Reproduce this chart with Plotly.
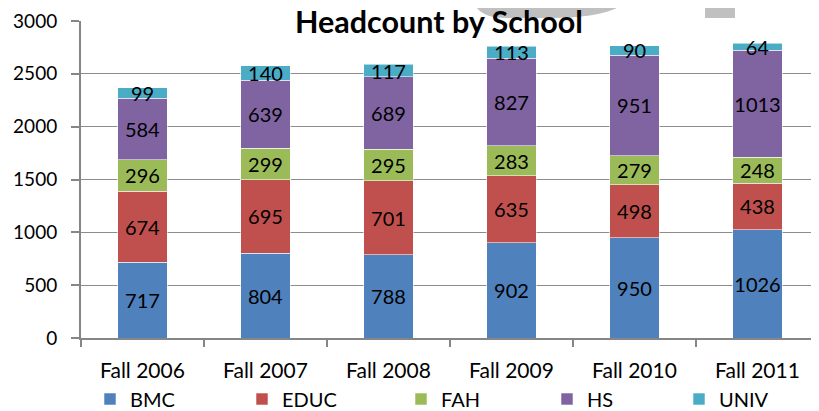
import plotly.graph_objects as go

# Data
terms = ["Fall 2006", "Fall 2007", "Fall 2008", "Fall 2009", "Fall 2010", "Fall 2011"]
bmc = [717, 804, 788, 902, 950, 1026]
educ = [674, 695, 701, 635, 498, 438]
fah = [296, 299, 295, 283, 279, 248]
hs = [584, 639, 689, 827, 951, 1013]
univ = [99, 140, 117, 113, 90, 64]

series = [
    ("BMC", bmc, "#4F81BD"),
    ("EDUC", educ, "#C0504D"),
    ("FAH", fah, "#9BBB59"),
    ("HS", hs, "#8064A2"),
    ("UNIV", univ, "#4BACC6"),
]

# the page body has an 8px margin, so the figure is shrunk by that much
OFF = 8
W, H = 819 - OFF, 411 - OFF
L, R, T, B = 81 - OFF, 0, 21 - OFF, 411 - 338
PW, PH = W - L - R, H - T - B


# screen pixel -> paper coords (used for decoration / legend placement only)
def px(x):
    return (x - OFF - L) / PW


def py(y):
    return (H - B - (y - OFF)) / PH


# legend swatch centres in the reference, one legend box per series
legend_x = [116, 268, 427, 573, 705]

fig = go.Figure()
for i, (name, vals, color) in enumerate(series):
    fig.add_trace(
        go.Bar(
            x=terms,
            y=vals,
            name=name,
            legend="legend" if i == 0 else f"legend{i + 1}",
            showlegend=True,
            text=[str(v) for v in vals],
            textposition="inside",
            insidetextanchor="middle",
            textangle=0,
            insidetextfont=dict(family="Lato", size=20, color="black"),
            marker=dict(color=color, line=dict(color="rgba(255,255,255,0.55)", width=1)),
            hoverinfo="name+y",
        )
    )

# gray watermark pieces peeking above the chart
arc = (
    f"M {px(473)},{py(0)} Q {px(478)},{py(18)} {px(505)},{py(18)} "
    f"L {px(550)},{py(18)} Q {px(612)},{py(18)} {px(628)},{py(0)} Z"
)
shapes = [
    dict(type="path", path=arc, xref="paper", yref="paper",
         fillcolor="#C0C0C0", line=dict(width=0), layer="below"),
    dict(type="rect", xref="paper", yref="paper", x0=px(705), x1=px(735),
         y0=py(18), y1=py(0), fillcolor="#C0C0C0", line=dict(width=0), layer="below"),
    # white box behind the title, breaking the top gridline
    dict(type="rect", xref="paper", yref="paper", x0=px(287), x1=px(590),
         y0=py(25), y1=py(18.5), fillcolor="white", line=dict(width=0), layer="above"),
]

legends = {}
for i, lx in enumerate(legend_x):
    key = "legend" if i == 0 else f"legend{i + 1}"
    legends[key] = dict(
        orientation="h",
        x=px(lx - 26), xanchor="left",
        y=py(399), yanchor="middle",
        font=dict(family="Lato", size=20, color="black"),
        bgcolor="rgba(0,0,0,0)",
        itemclick=False,
    )

fig.update_layout(
    width=W,
    height=H,
    margin=dict(l=L, r=R, t=T, b=B, autoexpand=False),
    paper_bgcolor="white",
    plot_bgcolor="white",
    showlegend=True,
    barmode="stack",
    bargap=0.6,
    font=dict(family="Lato", size=19, color="black"),
    uniformtext=dict(minsize=20, mode="show"),
    shapes=shapes,
    annotations=[
        dict(
            text="<b>Headcount by School</b>",
            xref="paper", yref="paper",
            x=px(439), y=py(21),
            xanchor="center", yanchor="middle",
            showarrow=False,
            font=dict(family="Lato", size=30.5, color="black"),
        )
    ],
    xaxis=dict(
        showline=True,
        linecolor="#868686",
        linewidth=2,
        ticks="outside",
        tickson="boundaries",
        ticklen=7,
        tickcolor="#868686",
        tickwidth=2,
        showgrid=False,
        ticklabelstandoff=13,
        tickfont=dict(size=21),
    ),
    yaxis=dict(
        range=[0, 3000],
        dtick=500,
        showline=True,
        linecolor="#868686",
        linewidth=2,
        ticks="outside",
        ticklen=8,
        tickcolor="#868686",
        tickwidth=2,
        showgrid=True,
        gridcolor="#8C8C8C",
        gridwidth=1.3,
        zeroline=False,
        ticklabelstandoff=10,
        tickfont=dict(size=19),
    ),
    **legends,
)

fig.write_html("out.html")
